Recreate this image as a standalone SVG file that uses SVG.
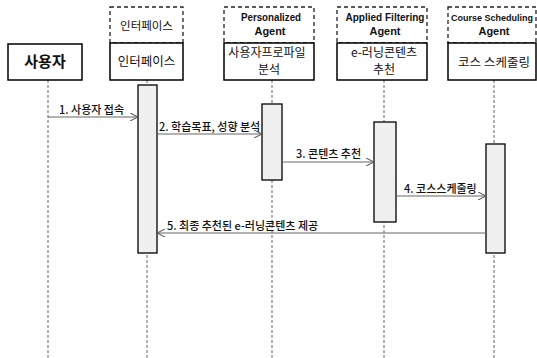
<svg xmlns="http://www.w3.org/2000/svg" width="537" height="358" viewBox="0 0 537 358">
<style>
.box{fill:#fff;stroke:#000;stroke-width:1.5}
.dbox{fill:#fff;stroke:#222;stroke-width:1.3;stroke-dasharray:4,3}
.act{fill:#f0f0f0;stroke:#000;stroke-width:1.3}
.life{stroke:#666;stroke-width:1;stroke-dasharray:3,2;fill:none}
.msg{stroke:#666;stroke-width:1;fill:none}
.t{font-family:"Noto Sans CJK KR","Liberation Sans",sans-serif;fill:#111;text-anchor:middle}
.h{font-size:12.5px}
.a{font-family:"Liberation Sans","Noto Sans CJK KR",sans-serif;font-weight:bold;font-size:11.5px;fill:#111;text-anchor:middle}
.l{font-family:"Noto Sans CJK KR","Liberation Sans",sans-serif;font-size:11px;font-weight:500;fill:#111}
</style>
<defs>
<marker id="arr" viewBox="0 0 10 10" refX="10" refY="5" markerWidth="8" markerHeight="8" orient="auto-start-reverse" markerUnits="userSpaceOnUse">
<path d="M0,0 L10,5 L0,10" fill="none" stroke="#555" stroke-width="1.3"/>
</marker>
</defs>
<g id="lifelines">
<line class="life" x1="48" y1="80" x2="48" y2="358"/>
<line class="life" x1="147" y1="80" x2="147" y2="358"/>
<line class="life" x1="272" y1="80" x2="272" y2="358"/>
<line class="life" x1="384" y1="80" x2="384" y2="358"/>
<line class="life" x1="494" y1="80" x2="494" y2="358"/>
</g>
<g id="user">
<rect class="box" x="8" y="44" width="74" height="36"/>
<text class="t" x="45" y="67" font-size="15" font-weight="bold">사용자</text>
</g>
<g id="interface">
<rect class="dbox" x="110" y="7" width="73" height="36"/>
<text class="t" x="146.5" y="30" font-size="11.5">인터페이스</text>
<rect class="box" x="110" y="43" width="73" height="37"/>
<text class="t h" x="146.5" y="66">인터페이스</text>
</g>
<g id="personalized">
<rect class="dbox" x="224" y="7" width="90" height="36"/>
<text class="a" x="271" y="21" textLength="60" lengthAdjust="spacingAndGlyphs">Personalized</text>
<text class="a" x="270" y="35" textLength="31" lengthAdjust="spacingAndGlyphs">Agent</text>
<rect class="box" x="224" y="43" width="90" height="37"/>
<text class="t" x="267" y="57" font-size="12">사용자프로파일</text>
<text class="t" x="269" y="74" font-size="12">분석</text>
</g>
<g id="filtering">
<rect class="dbox" x="337" y="7" width="90" height="36"/>
<text class="a" x="385" y="21" textLength="79" lengthAdjust="spacingAndGlyphs">Applied Filtering</text>
<text class="a" x="385" y="35" textLength="31" lengthAdjust="spacingAndGlyphs">Agent</text>
<rect class="box" x="337" y="43" width="90" height="37"/>
<text class="t" x="384" y="57" font-size="12">e-러닝콘텐츠</text>
<text class="t" x="384" y="74" font-size="12">추천</text>
</g>
<g id="scheduling">
<rect class="dbox" x="448" y="7" width="88" height="36"/>
<text class="a" x="492" y="21" font-size="9.6" textLength="82" lengthAdjust="spacingAndGlyphs" style="font-size:9.6px">Course Scheduling</text>
<text class="a" x="494" y="35" textLength="31" lengthAdjust="spacingAndGlyphs">Agent</text>
<rect class="box" x="448" y="43" width="88" height="37"/>
<text class="t" x="494" y="67" font-size="12.5">코스 스케줄링</text>
</g>
<g id="activations">
<rect class="act" x="138" y="85" width="19" height="168"/>
<rect class="act" x="262" y="104" width="20" height="76"/>
<rect class="act" x="374" y="122" width="22" height="100"/>
<rect class="act" x="486" y="144" width="19" height="109"/>
</g>
<g id="connectors">
<line class="msg" x1="48" y1="117" x2="138" y2="117" marker-end="url(#arr)"/>
<line class="msg" x1="157" y1="134" x2="262" y2="134" marker-end="url(#arr)"/>
<line class="msg" x1="282" y1="162" x2="374" y2="162" marker-end="url(#arr)"/>
<line class="msg" x1="396" y1="196" x2="486" y2="196" marker-end="url(#arr)"/>
<line class="msg" x1="486" y1="233" x2="157" y2="233" marker-end="url(#arr)"/>
<text class="l" x="59" y="114">1. 사용자 접속</text>
<text class="l" x="159" y="131">2. 학습목표, 성향 분석</text>
<text class="l" x="296" y="158">3. 콘텐츠 추천</text>
<text class="l" x="404" y="193">4. 코스스케줄링</text>
<text class="l" x="167" y="230">5. 최종 추천된 e-러닝콘텐츠 제공</text>
</g>
</svg>
